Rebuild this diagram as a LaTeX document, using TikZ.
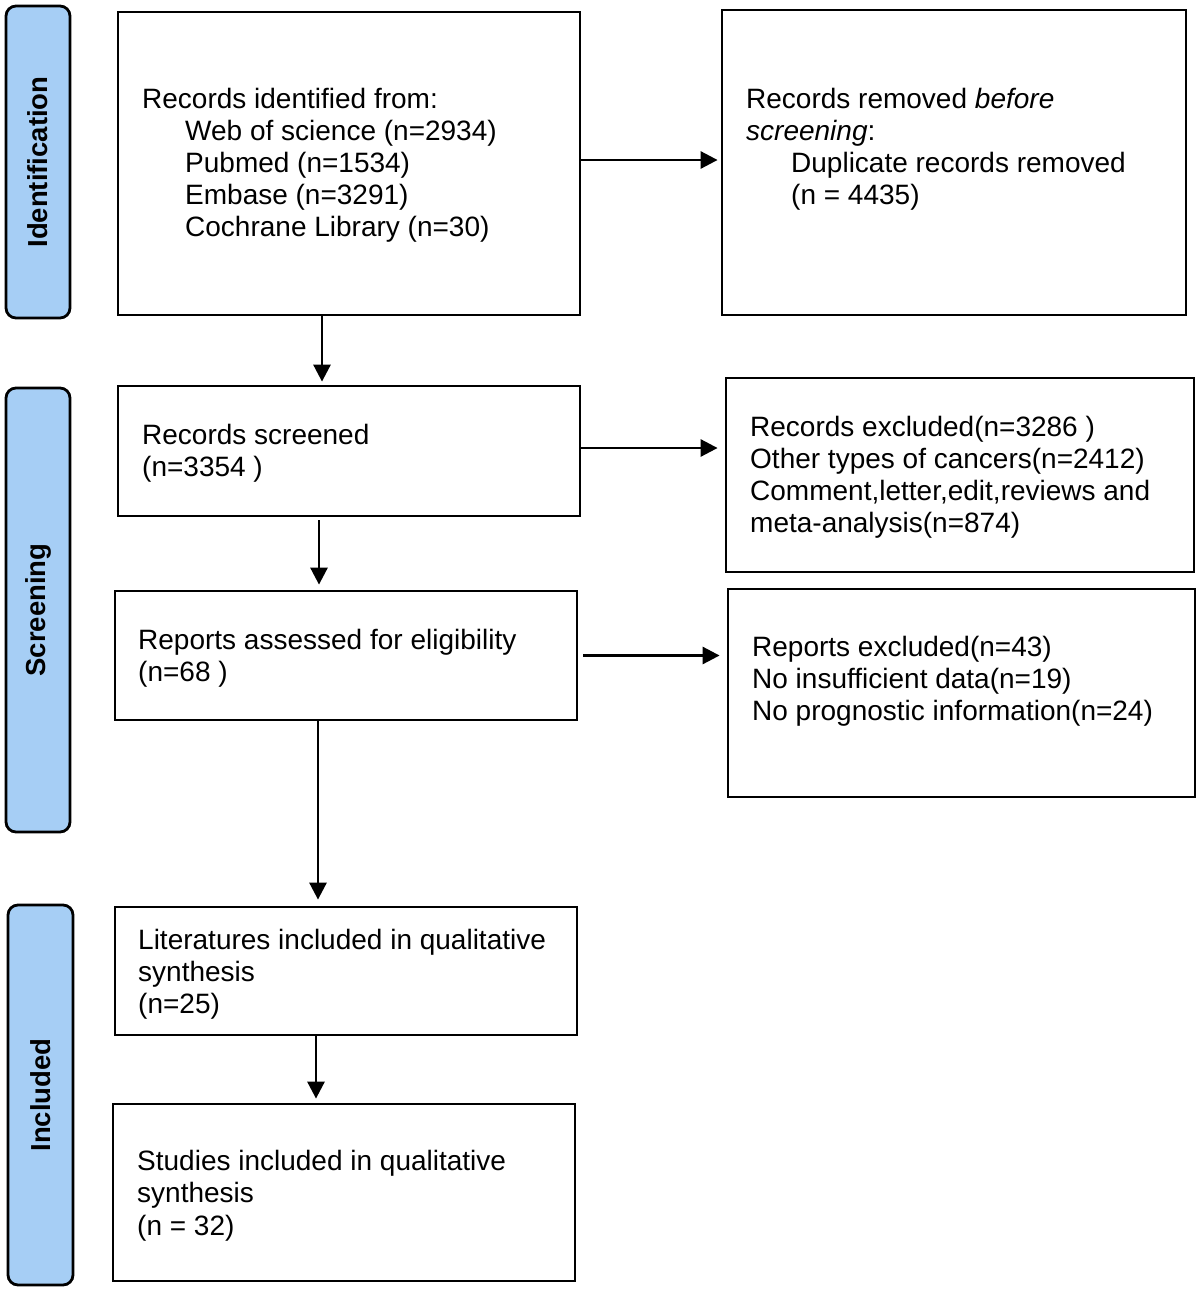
\documentclass[tikz,border=0pt]{standalone}
\usepackage{fontspec}
\setmainfont{Liberation Sans}
\usetikzlibrary{arrows.meta}
\definecolor{sideblue}{RGB}{166,206,245}
\begin{document}
\begin{tikzpicture}[x=1pt,y=-1pt,
  box/.style={draw, line width=2.8pt, rectangle, inner sep=0pt},
  side/.style={draw, line width=2.8pt, fill=sideblue, rounded corners=10pt, inner sep=0pt},
  sidetxt/.style={font=\fontsize{27.5}{32}\selectfont\bfseries, rotate=90, inner sep=0pt},
  txt/.style={font=\fontsize{28}{32}\selectfont, anchor=base west, inner sep=0pt},
  arr/.style={line width=2.8pt, -{Triangle[length=17pt,width=17pt]}}
]
\useasboundingbox (0,0) rectangle (1200,1296);

% side bars
\node[side, minimum width=64pt, minimum height=312pt] (sid) at (38,162) {};
\node[sidetxt] (sidt) at (38,162) {Identification};
\node[side, minimum width=64pt, minimum height=444pt] (sscr) at (38,610) {};
\node[sidetxt] (sscrt) at (38,610) {Screening};
\node[side, minimum width=65pt, minimum height=380pt] (sinc) at (40.5,1095) {};
\node[sidetxt] (sinct) at (40.5,1095) {Included};

% main boxes
\node[box, minimum width=462pt, minimum height=303pt] (b1) at (349,163.5) {};
\node[box, minimum width=464pt, minimum height=305pt] (r1) at (954,162.5) {};
\node[box, minimum width=462pt, minimum height=130pt] (b2) at (349,451) {};
\node[box, minimum width=468pt, minimum height=194pt] (r2) at (960,475) {};
\node[box, minimum width=462pt, minimum height=129pt] (b3) at (346,655.5) {};
\node[box, minimum width=467pt, minimum height=208pt] (r3) at (961.5,693) {};
\node[box, minimum width=462pt, minimum height=128pt] (b4) at (346,971) {};
\node[box, minimum width=462pt, minimum height=177pt] (b5) at (344,1192.5) {};

% texts
\node[txt] (t1a) at (142,108) {Records identified from:};
\node[txt] (t1b) at (185,140) {Web of science (n=2934)};
\node[txt] (t1c) at (185,172) {Pubmed (n=1534)};
\node[txt] (t1d) at (185,204) {Embase (n=3291)};
\node[txt] (t1e) at (185,236) {Cochrane Library (n=30)};

\node[txt] (r1a) at (746,108) {Records removed \textit{before}};
\node[txt] (r1b) at (746,140) {\textit{screening}:};
\node[txt] (r1c) at (791,172) {Duplicate records removed};
\node[txt] (r1d) at (791,204) {(n = 4435)};

\node[txt] (t2a) at (142,444) {Records screened};
\node[txt] (t2b) at (142,476) {(n=3354 )};

\node[txt] (r2a) at (750,436) {Records excluded(n=3286 )};
\node[txt] (r2b) at (750,468) {Other types of cancers(n=2412)};
\node[txt] (r2c) at (750,500) {Comment,letter,edit,reviews and};
\node[txt] (r2d) at (750,532) {meta-analysis(n=874)};

\node[txt] (t3a) at (138,649) {Reports assessed for eligibility};
\node[txt] (t3b) at (138,681) {(n=68 )};

\node[txt] (r3a) at (752,656) {Reports excluded(n=43)};
\node[txt] (r3b) at (752,688) {No insufficient data(n=19)};
\node[txt] (r3c) at (752,720) {No prognostic information(n=24)};

\node[txt] (t4a) at (138,949) {Literatures included in qualitative};
\node[txt] (t4b) at (138,981) {synthesis};
\node[txt] (t4c) at (138,1013) {(n=25)};

\node[txt] (t5a) at (137,1170) {Studies included in qualitative};
\node[txt] (t5b) at (137,1202) {synthesis};
\node[txt] (t5c) at (137,1235) {(n = 32)};

% horizontal arrows
\draw[arr, shorten >=3pt] ([yshift=3.5pt]b1.east) -- ([yshift=3.5pt]b1.east -| r1.west);
\draw[arr, shorten >=7pt] ([yshift=3pt]b2.east) -- ([yshift=3pt]b2.east -| r2.west);
\draw[arr, shorten >=7pt] ([xshift=5pt]b3.east) -- (b3.east -| r3.west);

% vertical arrows
\draw[arr, shorten >=3pt] ([xshift=-27pt]b1.south) -- ([xshift=-27pt]b1.south |- b2.north);
\draw[arr, shorten >=5pt] ([xshift=-30pt,yshift=-3pt]b2.south) -- ([xshift=-30pt]b2.south |- b3.north);
\draw[arr, shorten >=6pt] ([xshift=-28pt]b3.south) -- ([xshift=-28pt]b3.south |- b4.north);
\draw[arr, shorten >=4pt] ([xshift=-30pt]b4.south) -- ([xshift=-30pt]b4.south |- b5.north);
\end{tikzpicture}
\end{document}
